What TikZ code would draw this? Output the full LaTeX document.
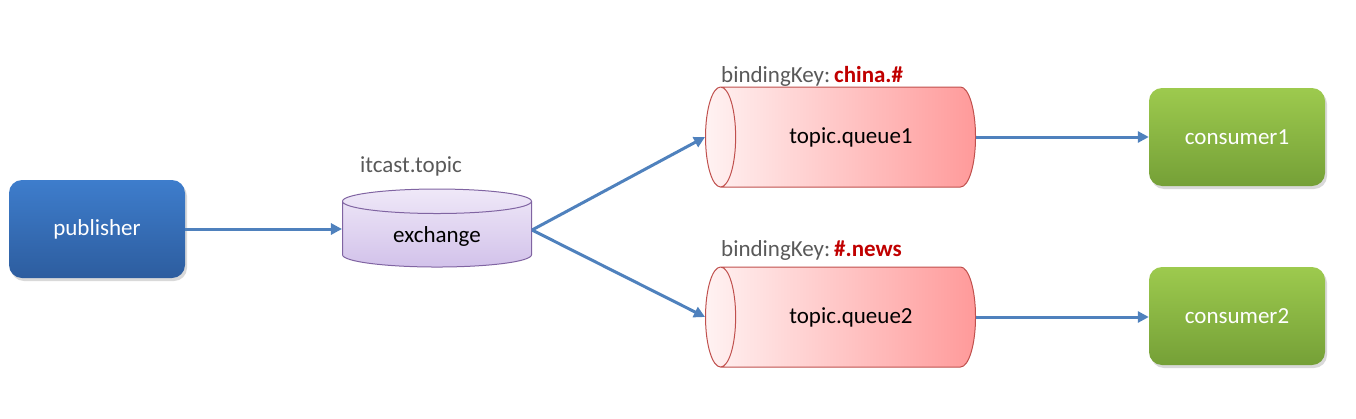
\documentclass[tikz,border=0pt]{standalone}
\usepackage{fontspec}
\setmainfont{Carlito}
\usetikzlibrary{shapes.geometric,arrows.meta,shadows}
\definecolor{flowblue}{HTML}{4F81BD}
\definecolor{keygray}{HTML}{595959}
\definecolor{keyred}{HTML}{C00000}
\definecolor{qborder}{HTML}{C0504D}
\definecolor{qleft}{HTML}{FFF2F2}
\definecolor{qright}{HTML}{FF9A9A}
\definecolor{exborder}{HTML}{8064A2}
\definecolor{extop}{HTML}{EFE8F8}
\definecolor{exbottom}{HTML}{D2C2EA}
\definecolor{pubtop}{HTML}{3E7DCC}
\definecolor{pubbottom}{HTML}{2D5D9F}
\definecolor{contop}{HTML}{9DCA4E}
\definecolor{conbottom}{HTML}{75A037}
\begin{document}
\begin{tikzpicture}[x=1pt,y=-1pt,
    txt/.style={font=\fontsize{23}{27}\selectfont},
    client/.style={txt,rectangle,rounded corners=13pt,minimum width=176pt,minimum height=98pt,
      text=white,drop shadow={opacity=.3,shadow xshift=2pt,shadow yshift=-3pt}},
    pubbox/.style={client,top color=pubtop,bottom color=pubbottom},
    conbox/.style={client,top color=contop,bottom color=conbottom},
    queue/.style={txt,cylinder,shape border rotate=180,aspect=1.15,draw=qborder,line width=1pt,
      minimum width=100pt,minimum height=270pt,left color=qleft,right color=qright},
    flow/.style={draw=flowblue,line width=3pt,-{Triangle[length=11pt,width=11pt]}},
    keylabel/.style={txt,text=keygray,anchor=west,inner sep=0pt}]
\useasboundingbox (0,0) rectangle (1356,418);
% clients
\node[pubbox] (pub) at (97,229) {publisher};
\node[conbox] (con1) at (1237,137) {consumer1};
\node[conbox] (con2) at (1237,316) {consumer2};
% exchange and queues
\node[txt,cylinder,shape border rotate=90,aspect=.26,draw=exborder,line width=1pt,
  minimum width=189pt,minimum height=78pt,top color=extop,bottom color=exbottom] (exch) at (437,236) {exchange};
\node[txt,text=keygray] (exname) at (411,166) {itcast.topic};
\node[queue] (q1) at (851,137) {topic.queue1};
\node[queue] (q2) at (851,317) {topic.queue2};
\node[keylabel] (key1) at (721,76) {bindingKey:\,\textcolor{keyred}{\textbf{china.\#}}};
\node[keylabel] (key2) at (721,250) {bindingKey:\,\textcolor{keyred}{\textbf{\#.news}}};
% arrows
\draw[flow] (pub.east) -- (pub.east -| exch.west);
\draw[flow] ([yshift=6pt]exch.east) -- (q1.west);
\draw[flow] ([yshift=6pt]exch.east) -- (q2.west);
\draw[flow] (q1.east) -- (q1.east -| con1.west);
\draw[flow] (q2.east) -- (q2.east -| con2.west);
\end{tikzpicture}
\end{document}
